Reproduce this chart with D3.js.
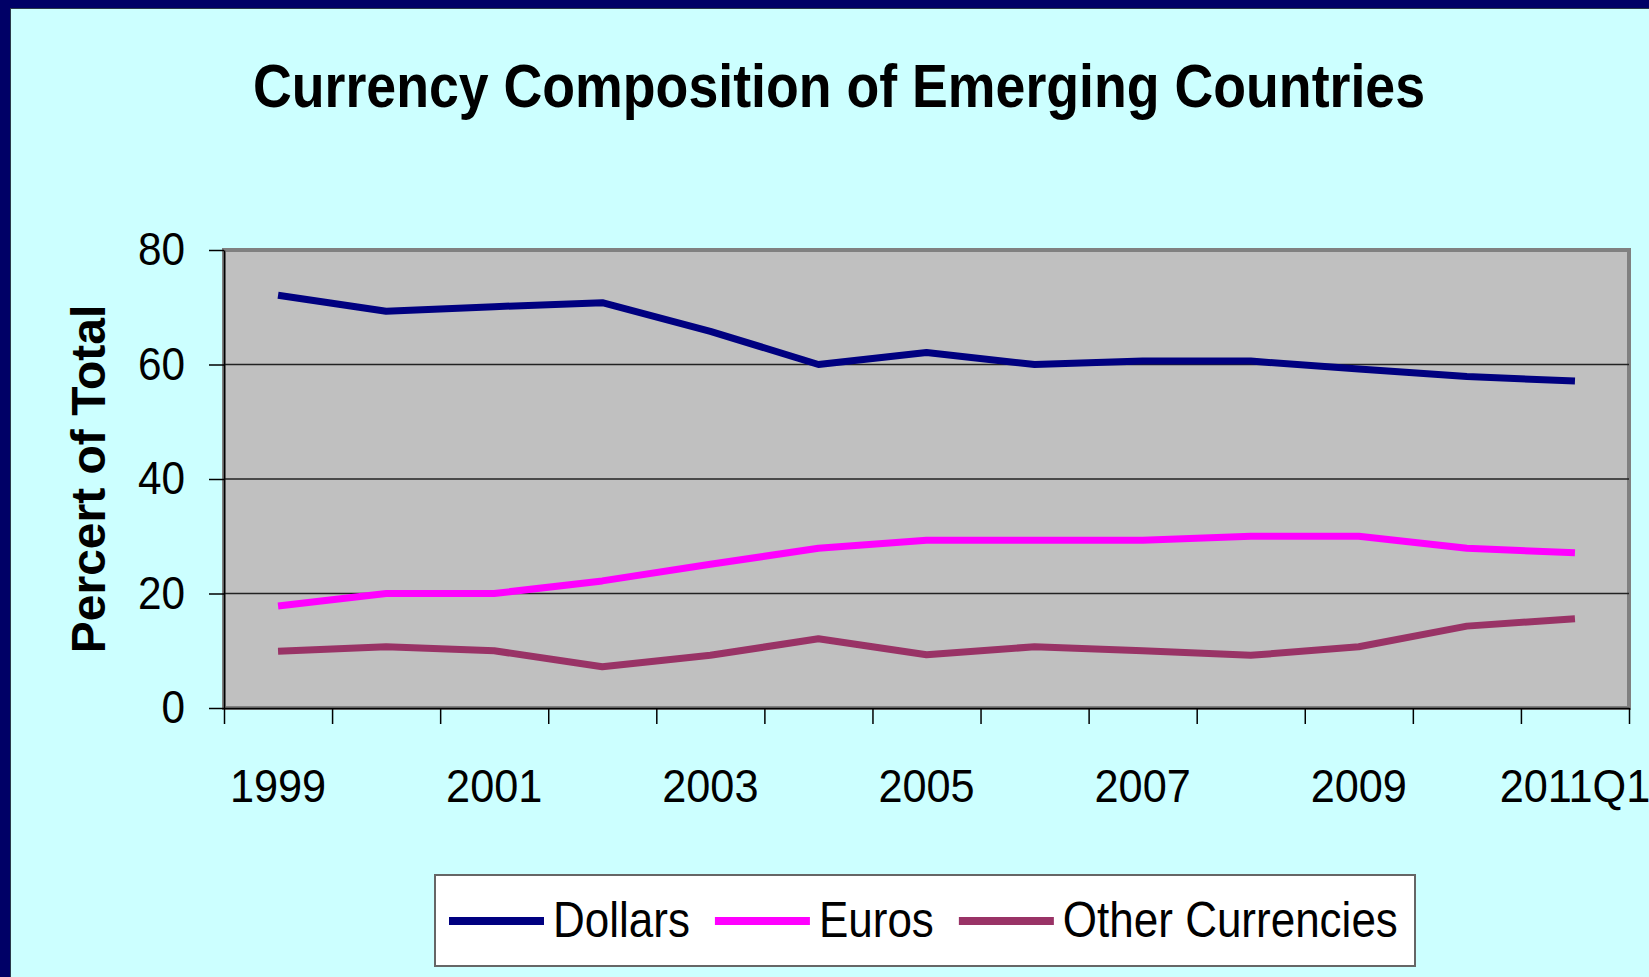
<!DOCTYPE html>
<html>
<head>
<meta charset="utf-8">
<script src="https://cdn.jsdelivr.net/npm/d3@7"></script>
<style>
    html, body { margin: 0; padding: 0; background: #CCFFFF; overflow: hidden; }
    svg { display: block; font-family: "Liberation Sans", Arial, sans-serif; }
</style>
</head>
<body>
<div id="my_dataviz"></div>
<script>

// values
var years = ["1999", "2000", "2001", "2002", "2003", "2004", "2005", "2006", "2007", "2008", "2009", "2010", "2011Q1"];
var dollars = [72.1, 69.3, 70.1, 70.8, 65.8, 60.0, 62.1, 60.0, 60.6, 60.6, 59.2, 57.9, 57.1];
var euros = [17.8, 20.0, 20.0, 22.2, 25.1, 27.9, 29.3, 29.3, 29.3, 30.0, 30.0, 27.9, 27.1];
var others = [9.9, 10.7, 10.0, 7.2, 9.2, 12.1, 9.3, 10.7, 10.0, 9.2, 10.7, 14.3, 15.6];
var seriesNames = ["Dollars", "Euros", "Other Currencies"];
var seriesColors = ["#000080", "#FF00FF", "#993366"];
var yTicks = [0, 20, 40, 60, 80];

var W = 1649, H = 977;
var margin = { top: 250, left: 224 },
    width = 1629 - margin.left,
    height = 708 - margin.top;

// the original text looks a bit narrow, squeeze it horizontally
function squeeze(sel, k) {
    sel.each(function () {
        var len = this.getComputedTextLength();
        if (len > 0)
            d3.select(this)
                .attr("textLength", len * k)
                .attr("lengthAdjust", "spacingAndGlyphs");
    });
}

var svg = d3.select("#my_dataviz")
    .append("svg")
    .attr("width", W)
    .attr("height", H);

// slide frame
svg.append("rect")
    .attr("width", W)
    .attr("height", H)
    .attr("fill", "#000066");
svg.append("rect")
    .attr("x", 10.5)
    .attr("y", 8.5)
    .attr("width", W)
    .attr("height", H)
    .attr("fill", "#CCFFFF")
    .attr("stroke", "#2a3a4a")
    .attr("stroke-width", 1);

svg.append("text")
    .attr("x", 839)
    .attr("y", 107)
    .attr("text-anchor", "middle")
    .style("font-weight", "bold")
    .style("font-size", "61px")
    .text("Currency Composition of Emerging Countries")
    .call(squeeze, 0.88);

var g = svg.append("g")
    .attr("transform", "translate(" + margin.left + "," + margin.top + ")");

var x = d3.scaleBand()
    .domain(years)
    .range([0, width]);

var xEdge = d3.scaleLinear()
    .domain([0, years.length])
    .range([0, width]);

var y = d3.scaleLinear()
    .domain([0, 80])
    .range([height, 0]);

// plot area
g.append("rect")
    .attr("width", width)
    .attr("height", height)
    .attr("fill", "#C0C0C0")
    .attr("stroke", "#808080")
    .attr("stroke-width", 4);

g.selectAll("gridLines")
    .data(yTicks.filter(function (d) { return d > 0 && d < 80; }))
    .enter()
    .append("line")
    .attr("x1", 0)
    .attr("x2", width)
    .attr("y1", function (d) { return y(d); })
    .attr("y2", function (d) { return y(d); })
    .attr("stroke", "#222")
    .attr("stroke-width", 1.5);

// y axis
var yAxis = g.append("g")
    .call(d3.axisLeft(y).tickValues(yTicks).tickSize(15).tickPadding(24).tickSizeOuter(0));
yAxis.selectAll("path, line").attr("stroke", "#000").attr("stroke-width", 1.5);
yAxis.selectAll("text")
    .style("font-family", "'Liberation Sans', Arial, sans-serif")
    .style("font-size", "46px")
    .attr("fill", "#000")
    .call(squeeze, 0.92);

// x axis ticks sit between the categories
var xTickAxis = g.append("g")
    .attr("transform", "translate(0," + height + ")")
    .call(d3.axisBottom(xEdge).tickValues(d3.range(years.length + 1)).tickSize(16).tickSizeOuter(0).tickFormat(""));
xTickAxis.selectAll("path, line").attr("stroke", "#000").attr("stroke-width", 1.5);

var xLabelAxis = g.append("g")
    .attr("transform", "translate(0," + height + ")")
    .call(d3.axisBottom(x).tickSize(0).tickPadding(61)
        .tickFormat(function (d, i) { return i % 2 == 0 ? d : ""; }));
xLabelAxis.select(".domain").remove();
xLabelAxis.selectAll("text")
    .style("font-family", "'Liberation Sans', Arial, sans-serif")
    .style("font-size", "46px")
    .attr("fill", "#000")
    .call(squeeze, 0.94);

svg.append("text")
    .attr("transform", "translate(105,479) rotate(-90)")
    .attr("text-anchor", "middle")
    .style("font-weight", "bold")
    .style("font-size", "48px")
    .text("Percert of Total");

// lines
var dataReady = seriesNames.map(function (name, i) {
    return { name: name, color: seriesColors[i], values: [dollars, euros, others][i] };
});

var line = d3.line()
    .x(function (d, i) { return x(years[i]) + x.bandwidth() / 2; })
    .y(function (d) { return y(d); });

g.selectAll("myLines")
    .data(dataReady)
    .enter()
    .append("path")
    .attr("d", function (d) { return line(d.values); })
    .attr("stroke", function (d) { return d.color; })
    .attr("stroke-width", 7)
    .attr("stroke-linejoin", "round")
    .attr("fill", "none");

// legend
svg.append("rect")
    .attr("x", 435)
    .attr("y", 875)
    .attr("width", 980)
    .attr("height", 91)
    .attr("fill", "#fff")
    .attr("stroke", "#666")
    .attr("stroke-width", 2);

var legendX = 449;
var legend = svg.selectAll("myLegend")
    .data(dataReady)
    .enter()
    .append("g");

legend.each(function (d) {
    var item = d3.select(this);
    item.append("line")
        .attr("x1", legendX)
        .attr("x2", legendX + 95)
        .attr("y1", 921)
        .attr("y2", 921)
        .attr("stroke", d.color)
        .attr("stroke-width", 8);
    var t = item.append("text")
        .attr("x", legendX + 104)
        .attr("y", 937)
        .style("font-size", "50px")
        .text(d.name)
        .call(squeeze, 0.88);
    legendX += 104 + t.node().getComputedTextLength() + 25;
});

</script>
</body>
</html>
